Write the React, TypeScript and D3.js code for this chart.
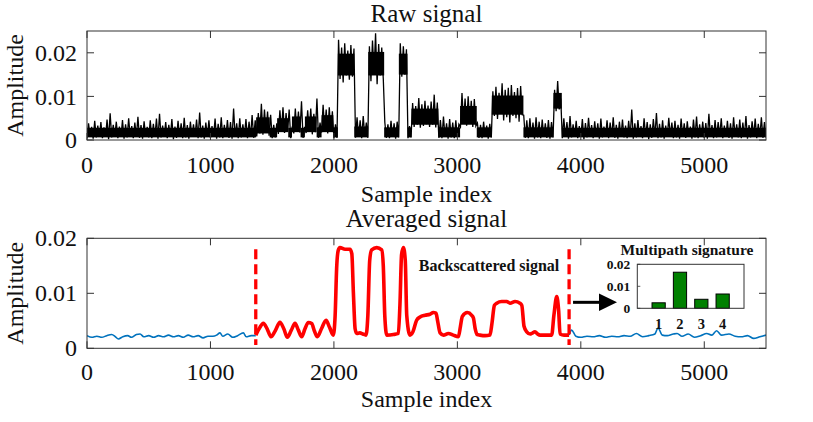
import React from "react";
import * as d3 from "d3";

// ---------- DATA ----------
const xTicks = [0, 1000, 2000, 3000, 4000, 5000];
const yTicksTop = [0, 0.01, 0.02];
const yTicksBottom = [0, 0.01, 0.02];

// raw signal: dense core of the noise band, [start sample, end sample, low, high]
const rawCore: [number, number, number, number][] = [
  [0, 1370, 0.0006, 0.0028],
  [1370, 1480, 0.0015, 0.0052],
  [1480, 1540, 0.0006, 0.0028],
  [1540, 1630, 0.0018, 0.005],
  [1630, 1660, 0.0006, 0.0028],
  [1660, 1730, 0.0018, 0.0054],
  [1730, 1765, 0.0006, 0.0028],
  [1765, 1860, 0.0018, 0.0054],
  [1860, 1900, 0.0006, 0.0029],
  [1900, 1995, 0.0018, 0.0057],
  [1995, 2032, 0.0006, 0.0029],
  [2032, 2165, 0.0148, 0.0198],
  [2165, 2278, 0.0006, 0.0031],
  [2278, 2407, 0.0148, 0.0202],
  [2407, 2526, 0.0006, 0.0029],
  [2526, 2596, 0.015, 0.0198],
  [2596, 2628, 0.0006, 0.0029],
  [2628, 2846, 0.0035, 0.0072],
  [2846, 3022, 0.0006, 0.0029],
  [3022, 3157, 0.0035, 0.0078],
  [3157, 3279, 0.0006, 0.0029],
  [3279, 3535, 0.0058, 0.0102],
  [3535, 3778, 0.0006, 0.0029],
  [3778, 3846, 0.0072, 0.0108],
  [3846, 5500, 0.0006, 0.0028],
];
// raw signal excursions: lows at samples 0,25,..,5500 and highs half a step later
const rawStep = 25;
const rawHigh = [
  0.0038, 0.003, 0.0044, 0.0033, 0.0041, 0.0029, 0.0047, 0.0061, 0.0035, 0.0042,
  0.0031, 0.0046, 0.0036, 0.005, 0.0032, 0.004, 0.0053, 0.0034, 0.0043, 0.003,
  0.0045, 0.0037, 0.0049, 0.006, 0.0033, 0.0041, 0.0035, 0.0048, 0.0031, 0.0044,
  0.0038, 0.0051, 0.0034, 0.0042, 0.0036, 0.0047, 0.0063, 0.0033, 0.004, 0.0045,
  0.0032, 0.0049, 0.0037, 0.0052, 0.0035, 0.0046, 0.0041, 0.0072, 0.0038, 0.005,
  0.0036, 0.0048, 0.0042, 0.0057, 0.0045,
  0.0062, 0.0083, 0.007, 0.0065, 0.0058,
  0.0035, 0.0038,
  0.0068, 0.0075, 0.0062, 0.007,
  0.0031,
  0.0072, 0.0065, 0.0089,
  0.003,
  0.0068, 0.0072, 0.006, 0.0095,
  0.004,
  0.0081, 0.007, 0.0075, 0.0066,
  0.0036,
  0.023, 0.0212, 0.0222, 0.0205, 0.0218, 0.021,
  0.0052, 0.0045, 0.0055, 0.004,
  0.0215, 0.0228, 0.0245, 0.022, 0.0212,
  0.004, 0.0036, 0.0044, 0.0038, 0.0042,
  0.0222, 0.0215, 0.0208,
  0.0032,
  0.0085, 0.0078, 0.0096, 0.0082, 0.009, 0.0079, 0.0088, 0.0104, 0.0086,
  0.0046, 0.0054, 0.0038, 0.0048, 0.004, 0.0045, 0.0036,
  0.0108, 0.0095, 0.01, 0.009, 0.0094,
  0.0039, 0.0035, 0.0042, 0.0033, 0.0037,
  0.0112, 0.0122, 0.0108, 0.013, 0.0115, 0.012, 0.0126, 0.011, 0.0119, 0.0124,
  0.0057, 0.0045, 0.005, 0.004, 0.0052, 0.0042, 0.0047, 0.0038, 0.0046, 0.0041,
  0.0115, 0.0135, 0.0095,
  0.005, 0.0041, 0.0055, 0.0036, 0.0044, 0.0032, 0.0048, 0.0039, 0.0051, 0.0034,
  0.0043, 0.0038, 0.0049, 0.0031, 0.0045, 0.004, 0.0052, 0.0035, 0.0042, 0.0047,
  0.0033, 0.0044, 0.007, 0.0038, 0.0046, 0.0032, 0.005, 0.0041, 0.0036, 0.0048,
  0.0062, 0.0037, 0.0045, 0.0033, 0.0051, 0.004, 0.0044, 0.0035, 0.0049, 0.0038,
  0.0043, 0.0031, 0.0047, 0.0054, 0.0036, 0.0042, 0.0039, 0.006, 0.0034, 0.0046,
  0.0041, 0.005, 0.0033, 0.0044, 0.0038, 0.0052, 0.0036, 0.0047, 0.004, 0.0055,
  0.0034, 0.0043, 0.0049, 0.0037, 0.0052, 0.0041, 0.0046,
];
const rawLow = [
  0.0004, 0.0007, 0.0003, 0.0006, 0.0008, 0.0004, 0.0007, 0.0002, 0.0006, 0.0009,
  0.0004, 0.0007, 0.0003, 0.0006, 0.0008, 0.0004, 0.0007, 0.0005, 0.0003, 0.0008,
  0.0006, 0.0004, 0.0007, 0.0003, 0.0006, 0.0008, 0.0004, 0.0007, 0.0002, 0.0005,
  0.0008, 0.0004, 0.0006, 0.0003, 0.0007, 0.0009, 0.0004, 0.0006, 0.0003, 0.0008,
  0.0005, 0.0007, 0.0003, 0.0006, 0.0004, 0.0008, 0.0005, 0.0003, 0.0007, 0.0004,
  0.0006, 0.0009, 0.0004, 0.0007, 0.0005,
  0.0008, 0.0015, 0.0012, 0.0018, 0.001,
  0.0004, 0.0006,
  0.0014, 0.002, 0.0016, 0.0019,
  0.0004,
  0.0015, 0.002, 0.0017,
  0.0005,
  0.0016, 0.002, 0.0013, 0.0018,
  0.0005,
  0.0017, 0.0022, 0.0015, 0.0019,
  0.0004, 0.0005,
  0.014, 0.0132, 0.0148, 0.0138, 0.0145,
  0.0005, 0.0007, 0.0004, 0.0008, 0.0005,
  0.0135, 0.0155, 0.0128, 0.0148, 0.014,
  0.0005, 0.0004, 0.0007, 0.0003, 0.0006,
  0.0145, 0.015,
  0.0004, 0.0006,
  0.003, 0.0035, 0.0028, 0.0032, 0.0036, 0.003, 0.0035, 0.0029,
  0.0005, 0.0004, 0.0007, 0.0003, 0.0006, 0.0004, 0.0007,
  0.003, 0.004, 0.0033, 0.0038, 0.003, 0.0032,
  0.0005, 0.0004, 0.0007, 0.0003, 0.0006,
  0.0055, 0.0048, 0.006, 0.0045, 0.0052, 0.004, 0.0055, 0.005, 0.0042, 0.0058,
  0.0005, 0.0004, 0.0007, 0.0003, 0.0006, 0.0004, 0.0008, 0.0005, 0.0003, 0.0006,
  0.0066, 0.007,
  0.0004, 0.0007, 0.0003, 0.0006, 0.0008, 0.0004, 0.0007, 0.0002, 0.0006, 0.0009,
  0.0004, 0.0007, 0.0003, 0.0006, 0.0008, 0.0004, 0.0007, 0.0005, 0.0003, 0.0008,
  0.0006, 0.0004, 0.0007, 0.0003, 0.0006, 0.0008, 0.0004, 0.0007, 0.0002, 0.0005,
  0.0008, 0.0004, 0.0006, 0.0003, 0.0007, 0.0009, 0.0004, 0.0006, 0.0003, 0.0008,
  0.0005, 0.0007, 0.0003, 0.0006, 0.0004, 0.0008, 0.0005, 0.0003, 0.0007, 0.0004,
  0.0006, 0.0009, 0.0004, 0.0007, 0.0005, 0.0003, 0.0008, 0.0006, 0.0004, 0.0007,
  0.0003, 0.0006, 0.0008, 0.0004, 0.0007, 0.0005, 0.0006,
];

// averaged signal: [sample index, amplitude]
const avgBefore: [number, number][] = [
  [0, 0.0023], [40, 0.002], [80, 0.0022], [120, 0.002], [160, 0.0023], [200, 0.0025],
  [230, 0.0021], [254, 0.0017], [290, 0.0021], [330, 0.0023], [360, 0.002], [400, 0.0025],
  [430, 0.0026], [460, 0.0021], [500, 0.0023], [540, 0.002], [580, 0.0023], [620, 0.0021],
  [660, 0.0024], [700, 0.0021], [740, 0.0023], [780, 0.002], [820, 0.0024], [860, 0.0021],
  [900, 0.0023], [940, 0.0019], [980, 0.0022], [1020, 0.0022], [1050, 0.0024], [1077, 0.0028],
  [1100, 0.0022], [1140, 0.0026], [1180, 0.002], [1220, 0.0023], [1266, 0.0028], [1290, 0.0021],
  [1330, 0.0023], [1367, 0.0023],
];
const avgBackscatter: [number, number][] = [
  [1367, 0.0024], [1400, 0.0038], [1428, 0.00455], [1460, 0.0035], [1490, 0.0021], [1525, 0.0032],
  [1563, 0.00473], [1595, 0.0035], [1623, 0.002], [1655, 0.0033], [1685, 0.00455], [1712, 0.0033],
  [1739, 0.0021], [1765, 0.0035], [1793, 0.0047], [1820, 0.0045], [1843, 0.0031], [1866, 0.0021],
  [1900, 0.0036], [1936, 0.0051], [1965, 0.0038], [1995, 0.0024], [2010, 0.006], [2022, 0.0145],
  [2035, 0.0178], [2049, 0.0183], [2090, 0.018], [2130, 0.018], [2145, 0.0172], [2158, 0.01],
  [2172, 0.0035], [2185, 0.0027], [2210, 0.0028], [2235, 0.0026], [2260, 0.0024], [2275, 0.006],
  [2290, 0.016], [2306, 0.0179], [2347, 0.0183], [2387, 0.0179], [2400, 0.015], [2412, 0.006],
  [2428, 0.0024], [2482, 0.0025], [2522, 0.0027], [2535, 0.008], [2548, 0.017], [2563, 0.0183],
  [2578, 0.016], [2590, 0.006], [2616, 0.0024], [2640, 0.003], [2670, 0.0051], [2698, 0.0057],
  [2738, 0.006], [2778, 0.0062], [2805, 0.0065], [2827, 0.0064], [2840, 0.005], [2860, 0.0028],
  [2887, 0.0024], [2927, 0.0027], [2967, 0.0024], [3008, 0.0021], [3025, 0.004], [3040, 0.0058],
  [3081, 0.0065], [3116, 0.006], [3130, 0.0055], [3145, 0.0035], [3160, 0.0025], [3183, 0.0024],
  [3224, 0.0023], [3264, 0.0024], [3280, 0.0045], [3300, 0.0078], [3319, 0.0082], [3359, 0.0085],
  [3400, 0.0085], [3427, 0.0082], [3467, 0.0085], [3507, 0.0082], [3522, 0.0078], [3540, 0.004],
  [3562, 0.003], [3590, 0.0026], [3602, 0.0027], [3629, 0.003], [3650, 0.0026], [3670, 0.0024],
  [3724, 0.0024], [3764, 0.0024], [3782, 0.006], [3805, 0.0094], [3820, 0.007], [3832, 0.0026],
  [3864, 0.0024], [3905, 0.0024],
];
const avgAfter: [number, number][] = [
  [3905, 0.0024], [3926, 0.0033], [3960, 0.0022], [4000, 0.002], [4050, 0.0022], [4100, 0.0021],
  [4150, 0.0023], [4200, 0.002], [4250, 0.0022], [4300, 0.0021], [4350, 0.0023], [4400, 0.0022],
  [4450, 0.0027], [4500, 0.0021], [4550, 0.0023], [4600, 0.0026], [4625, 0.0037], [4660, 0.0024],
  [4700, 0.0023], [4750, 0.0026], [4780, 0.0027], [4820, 0.0022], [4870, 0.0026], [4920, 0.002],
  [4970, 0.0023], [5020, 0.0027], [5060, 0.0024], [5100, 0.0032], [5140, 0.0024], [5200, 0.0026],
  [5250, 0.0022], [5300, 0.0021], [5350, 0.0023], [5400, 0.0018], [5450, 0.0021], [5500, 0.0024],
];
const segmentBounds = [1367, 3905];
const dashRange = [0.0006, 0.018];
const arrowFrom = 3937;
const arrowTo = 4293;
const arrowLevel = 0.00836;

const pathIds = ["1", "2", "3", "4"];
const pathValues = [0.0025, 0.0164, 0.0041, 0.0065];
const insetYTicks = [0, 0.01, 0.02];

// ---------- LAYOUT ----------
const W = 813;
const H = 422;
const FONT = "'Liberation Serif', 'Times New Roman', Times, serif";
const AX = "#333333";
const top = { l: 87, r: 766, t: 31, b: 140 };
const bot = { l: 87, r: 766, t: 238.3, b: 348.3 };
const ins = { l: 637.3, r: 744, t: 264.3, b: 308.3 };
const TICK = 7;

const fmt = (v: number) => (v === 0 ? "0" : v.toFixed(2));

function Frame({ box, x, y, xt, yt }: any) {
  return (
    <g>
      {xt.map((t: number) => (
        <g key={"x" + t}>
          <line x1={x(t)} x2={x(t)} y1={box.b} y2={box.b - TICK} stroke={AX} strokeWidth={1} />
          <line x1={x(t)} x2={x(t)} y1={box.t} y2={box.t + TICK} stroke={AX} strokeWidth={1} />
        </g>
      ))}
      {yt.map((t: number) => (
        <g key={"y" + t}>
          <line x1={box.l} x2={box.l + TICK} y1={y(t)} y2={y(t)} stroke={AX} strokeWidth={1} />
          <line x1={box.r} x2={box.r - TICK} y1={y(t)} y2={y(t)} stroke={AX} strokeWidth={1} />
        </g>
      ))}
      <rect x={box.l} y={box.t} width={box.r - box.l} height={box.b - box.t} fill="none" stroke={AX} strokeWidth={1} />
    </g>
  );
}

function AxisText({ box, x, y, xt, yt, tickBase, labelBase }: any) {
  const cy = (box.t + box.b) / 2;
  return (
    <g fontFamily={FONT} fill="#111" fontSize={24}>
      {xt.map((t: number) => (
        <text key={"xl" + t} x={x(t)} y={tickBase} textAnchor="middle">{t}</text>
      ))}
      {yt.map((t: number) => (
        <text key={"yl" + t} x={box.l - 10} y={y(t)} dy="0.34em" textAnchor="end">{fmt(t)}</text>
      ))}
      <text x={(box.l + box.r) / 2} y={labelBase} textAnchor="middle">Sample index</text>
      <text transform={`translate(23,${cy}) rotate(-90)`} textAnchor="middle">Amplitude</text>
    </g>
  );
}

export default function App() {
  const xTop = d3.scaleLinear().domain([0, 5500]).range([top.l, top.r]);
  const yTop = d3.scaleLinear().domain([0, 0.025]).range([top.b, top.t]);
  const xBot = d3.scaleLinear().domain([0, 5500]).range([bot.l, bot.r]);
  const yBot = d3.scaleLinear().domain([0, 0.02]).range([bot.b, bot.t]);
  const xIn = d3.scaleLinear().domain([0, 5]).range([ins.l, ins.r]);
  const yIn = d3.scaleLinear().domain([0, 0.02]).range([ins.b, ins.t]);

  // zig-zag through the lows and highs of the raw trace
  const n = Math.min(rawHigh.length, rawLow.length);
  const rawPts: [number, number][] = [];
  for (let i = 0; i < n; i++) {
    rawPts.push([i * rawStep, rawLow[i]]);
    rawPts.push([i * rawStep + rawStep / 2, rawHigh[i]]);
  }
  const rawLine = d3
    .line<[number, number]>()
    .x((d) => xTop(d[0]))
    .y((d) => yTop(d[1]))(rawPts) as string;

  const line = d3
    .line<[number, number]>()
    .x((d) => xBot(d[0]))
    .y((d) => yBot(d[1]))
    .curve(d3.curveMonotoneX);

  const ay = yBot(arrowLevel);
  const ax0 = xBot(arrowFrom);
  const ax1 = xBot(arrowTo);
  const headL = 18;
  const headH = 8.8;

  const bw = 0.62;

  return (
    <svg width={W} height={H} style={{ position: "absolute", left: 0, top: 0, background: "#fff" }}>
      <defs>
        <clipPath id="clipTop">
          <rect x={top.l} y={top.t} width={top.r - top.l} height={top.b - top.t} />
        </clipPath>
        <clipPath id="clipBot">
          <rect x={bot.l} y={bot.t} width={bot.r - bot.l} height={bot.b - bot.t} />
        </clipPath>
      </defs>
      <rect x={0} y={0} width={W} height={H} fill="#fff" />

      {/* ---- Raw signal ---- */}
      <text x={(top.l + top.r) / 2} y={22} textAnchor="middle" fontFamily={FONT} fontSize={25} fill="#111">
        Raw signal
      </text>
      <g clipPath="url(#clipTop)">
        {rawCore.map((c, i) => (
          <rect key={i} x={xTop(c[0])} y={yTop(c[3])} width={xTop(c[1]) - xTop(c[0])}
            height={yTop(c[2]) - yTop(c[3])} fill="#000" />
        ))}
        <path d={rawLine} fill="none" stroke="#000" strokeWidth={1.3} strokeLinejoin="miter" />
      </g>
      <Frame box={top} x={xTop} y={yTop} xt={xTicks} yt={yTicksTop} />
      <AxisText box={top} x={xTop} y={yTop} xt={xTicks} yt={yTicksTop} tickBase={173} labelBase={201.5} />

      {/* ---- Averaged signal ---- */}
      <text x={(bot.l + bot.r) / 2} y={226.5} textAnchor="middle" fontFamily={FONT} fontSize={25} fill="#111">
        Averaged signal
      </text>
      <g clipPath="url(#clipBot)">
        <path d={line(avgBefore) as string} fill="none" stroke="#0072BD" strokeWidth={1.6} />
        <path d={line(avgAfter) as string} fill="none" stroke="#0072BD" strokeWidth={1.6} />
        <path d={line(avgBackscatter) as string} fill="none" stroke="#FF0000" strokeWidth={3.6} strokeLinejoin="round" />
        {segmentBounds.map((s) => (
          <line key={s} x1={xBot(s)} x2={xBot(s)} y1={yBot(dashRange[1])} y2={yBot(dashRange[0])}
            stroke="#FF0000" strokeWidth={3.3} strokeDasharray="10,5" />
        ))}
      </g>
      <Frame box={bot} x={xBot} y={yBot} xt={xTicks} yt={yTicksBottom} />
      <AxisText box={bot} x={xBot} y={yBot} xt={xTicks} yt={yTicksBottom} tickBase={380} labelBase={407} />

      <text x={489} y={271} textAnchor="middle" fontFamily={FONT} fontWeight="bold" fontSize={16} fill="#111">
        Backscattered signal
      </text>

      {/* arrow */}
      <line x1={ax0} x2={ax1 - headL + 1} y1={ay} y2={ay} stroke="#000" strokeWidth={3} />
      <polygon points={`${ax1},${ay} ${ax1 - headL},${ay - headH} ${ax1 - headL},${ay + headH}`} fill="#000" />

      {/* ---- Inset ---- */}
      <text x={687} y={255} textAnchor="middle" fontFamily={FONT} fontWeight="bold" fontSize={15.5} fill="#111">
        Multipath signature
      </text>
      <rect x={ins.l} y={ins.t} width={ins.r - ins.l} height={ins.b - ins.t} fill="#fff" />
      {pathValues.map((v, i) => {
        const c = i + 1;
        return (
          <rect key={i} x={xIn(c - bw / 2)} y={yIn(v)} width={xIn(c + bw / 2) - xIn(c - bw / 2)}
            height={yIn(0) - yIn(v)} fill="#008000" stroke="#000" strokeWidth={1} />
        );
      })}
      {insetYTicks.map((t) => (
        <line key={"it" + t} x1={ins.l} x2={ins.l + 3} y1={yIn(t)} y2={yIn(t)} stroke={AX} strokeWidth={0.8} />
      ))}
      <rect x={ins.l} y={ins.t} width={ins.r - ins.l} height={ins.b - ins.t} fill="none" stroke={AX} strokeWidth={1} />
      <g fontFamily={FONT} fontWeight="bold" fill="#111">
        {insetYTicks.map((t) => (
          <text key={"iy" + t} x={ins.l - 7} y={yIn(t)} dy="0.34em" textAnchor="end" fontSize={13.5}>{fmt(t)}</text>
        ))}
        {pathIds.map((p, i) => (
          <text key={"ix" + p} x={xIn(i + 1)} y={329} textAnchor="middle" fontSize={14.5}>{p}</text>
        ))}
      </g>
    </svg>
  );
}
